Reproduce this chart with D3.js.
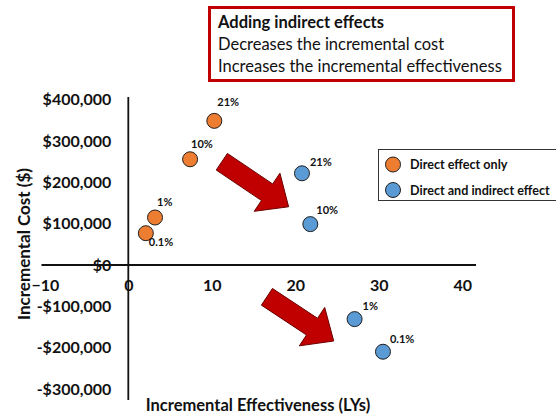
<!DOCTYPE html>
<html>
<head>
<meta charset="utf-8">
<script src="https://cdn.jsdelivr.net/npm/d3@7"></script>
<style>
  html, body { margin: 0; padding: 0; background: #fff; }
  svg { display: block; font-family: Lato, "Open Sans", sans-serif; }
</style>
</head>
<body>
<svg id="chart" width="556" height="415"></svg>
<script>
// ---- data ----
const seriesNames = ["Direct effect only", "Direct and indirect effect"];
const pointLabels = ["21%", "10%", "1%", "0.1%"];
const directX = [10.3, 7.4, 3.2, 2.1];
const directY = [349000, 256000, 115000, 77000];
const indirectX = [20.8, 21.8, 27.1, 30.5];
const indirectY = [222000, 99000, -131000, -210000];
const xTicks = [-10, 0, 10, 20, 30, 40];
const yTicks = [-300000, -200000, -100000, 0, 100000, 200000, 300000, 400000];
const noteLines = ["Adding indirect effects", "Decreases the incremental cost", "Increases the incremental effectiveness"];
// arrows: [tailX, tailY, tipX, tipY] in data units
const arrows = [[11.2, 250000, 19.2, 141000], [16.6, -77000, 24.6, -184000]];

const colors = ["#ED7D31", "#5B9BD5"];
const svg = d3.select("#chart");

const x = d3.scaleLinear().domain([-10, 40]).range([44.8, 462.3]);
const y = d3.scaleLinear().domain([-300000, 400000]).range([388.9, 99.8]);

const fmtY = v => (v < 0 ? "-$" : "$") + d3.format(",")(Math.abs(v));

// axis lines
svg.append("line").attr("x1", 41.5).attr("x2", 476).attr("y1", y(0)).attr("y2", y(0))
  .attr("stroke", "#111").attr("stroke-width", 1.8);
svg.append("line").attr("x1", x(0)).attr("x2", x(0)).attr("y1", 97).attr("y2", 400)
  .attr("stroke", "#111").attr("stroke-width", 1.8);

// x axis tick labels
const xAxis = d3.axisBottom(x).tickValues(xTicks).tickSize(0).tickPadding(15).tickFormat(d3.format("d"));
const gx = svg.append("g").attr("transform", `translate(0,${y(0)})`).call(xAxis);
gx.select(".domain").remove();
gx.selectAll("text").attr("font-family", "Lato, sans-serif").attr("font-size", 16)
  .attr("font-weight", "bold").attr("fill", "#111");

// y axis tick labels
const yAxis = d3.axisLeft(y).tickValues(yTicks).tickSize(0).tickPadding(17).tickFormat(fmtY);
const gy = svg.append("g").attr("transform", `translate(${x(0)},0)`).call(yAxis);
gy.select(".domain").remove();
gy.selectAll("text").attr("font-family", "Lato, sans-serif").attr("font-size", 16)
  .attr("font-weight", "bold").attr("fill", "#111");

// axis titles
svg.append("text").attr("x", 258).attr("y", 411).attr("text-anchor", "middle")
  .attr("font-size", 16.5).attr("font-weight", "bold").attr("fill", "#111")
  .text("Incremental Effectiveness (LYs)");
svg.append("text").attr("transform", "translate(30,244) rotate(-90)").attr("text-anchor", "middle")
  .attr("font-size", 17).attr("font-weight", "bold").attr("fill", "#111")
  .text("Incremental Cost ($)");

// arrows
function arrowPath(a) {
  const x0 = x(a[0]), y0 = y(a[1]), x1 = x(a[2]), y1 = y(a[3]);
  const dx = x1 - x0, dy = y1 - y0, L = Math.hypot(dx, dy);
  const ux = dx / L, uy = dy / L, nx = -uy, ny = ux;
  const sw = 10, hw = 23, hl = 26;
  const bx = x1 - ux * hl, by = y1 - uy * hl;
  const pts = [
    [x0 + nx * sw, y0 + ny * sw], [bx + nx * sw, by + ny * sw], [bx + nx * hw, by + ny * hw],
    [x1, y1], [bx - nx * hw, by - ny * hw], [bx - nx * sw, by - ny * sw], [x0 - nx * sw, y0 - ny * sw]
  ];
  return "M" + pts.map(p => p.join(",")).join("L") + "Z";
}
svg.selectAll("path.arrow").data(arrows).enter().append("path").attr("class", "arrow")
  .attr("d", arrowPath).attr("fill", "#C00000").attr("stroke", "#6b0000").attr("stroke-width", 1);

// points
const series = [
  { xs: directX, ys: directY, color: colors[0] },
  { xs: indirectX, ys: indirectY, color: colors[1] }
];
// label offsets (dx, dy) relative to point centre
const labelOffsets = [
  [[3, -15], [1, -11], [2, -12], [3, 13]],
  [[8, -7], [6, -10], [8, -9], [7, -9]]
];
series.forEach((s, si) => {
  s.xs.forEach((xv, i) => {
    svg.append("circle").attr("cx", x(xv)).attr("cy", y(s.ys[i])).attr("r", 7.5)
      .attr("fill", s.color).attr("stroke", "#1f1f1f").attr("stroke-width", 1);
    const off = labelOffsets[si][i];
    svg.append("text").attr("x", x(xv) + off[0]).attr("y", y(s.ys[i]) + off[1])
      .attr("font-size", 11).attr("font-weight", "bold").attr("fill", "#111")
      .text(pointLabels[i]);
  });
});

// legend
const lg = svg.append("g");
lg.append("rect").attr("x", 378.5).attr("y", 149.5).attr("width", 190).attr("height", 51)
  .attr("fill", "#fff").attr("stroke", "#333").attr("stroke-width", 1);
seriesNames.forEach((n, i) => {
  lg.append("circle").attr("cx", 393).attr("cy", 164.5 + i * 25.5).attr("r", 7.5)
    .attr("fill", colors[i]).attr("stroke", "#1f1f1f").attr("stroke-width", 1);
  lg.append("text").attr("x", 410).attr("y", 169 + i * 25.5)
    .attr("font-size", 12.6).attr("font-weight", "bold").attr("fill", "#111").text(n);
});

// note box
const nb = svg.append("g");
nb.append("rect").attr("x", 209.5).attr("y", 7.5).attr("width", 304).attr("height", 73)
  .attr("fill", "#fff").attr("stroke", "#C00000").attr("stroke-width", 3);
noteLines.forEach((t, i) => {
  nb.append("text").attr("x", 218).attr("y", 28 + i * 22)
    .attr("font-size", 16.5).attr("font-weight", i === 0 ? "bold" : "normal").attr("fill", "#111").text(t);
});
</script>
</body>
</html>
